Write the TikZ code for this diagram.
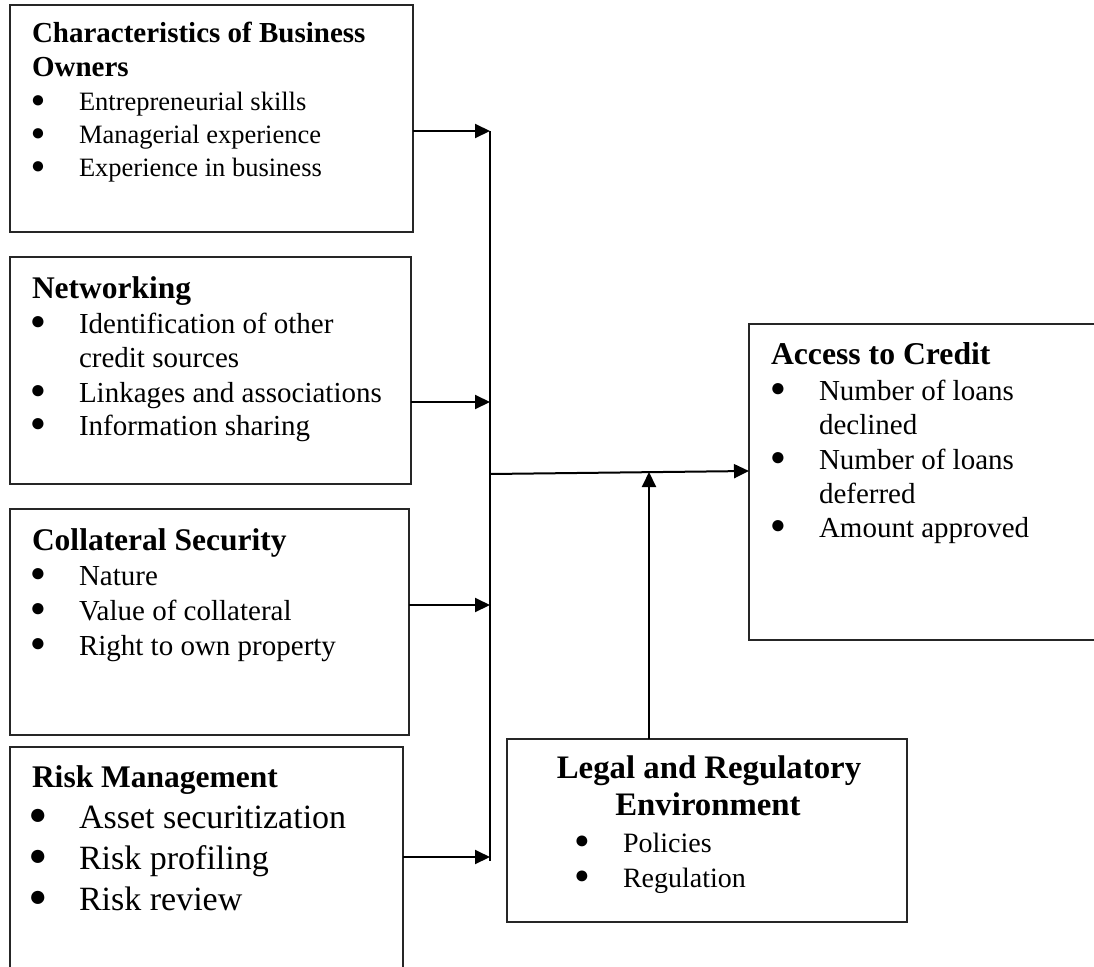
\documentclass[tikz,border=0pt]{standalone}
\usepackage{fontspec}
\setmainfont{Liberation Serif}
\usetikzlibrary{arrows.meta}
\tikzset{
  box/.style={draw=black!85, line width=1.1pt, anchor=north west, inner sep=0pt, outer sep=0pt},
  ln/.style={anchor=base west, inner sep=0pt, outer sep=0pt},
  cln/.style={anchor=base, inner sep=0pt, outer sep=0pt},
  arr/.style={line width=2pt, -{Triangle[length=15pt,width=14pt]}},
  bus/.style={line width=2pt},
}
\makeatletter
\newcommand\bul{\llap{\raisebox{0.11em}{\fontsize{\fpeval{0.9*\f@size}}{0}\selectfont ●}\hspace{\dimexpr41pt-0.27em\relax}}}
\makeatother
\newcommand\fs[1]{\fontsize{#1}{#1}\selectfont}
\begin{document}
\begin{tikzpicture}[x=1pt,y=-1pt]
\useasboundingbox (0,0) rectangle (1094,966);
\clip (0,0) rectangle (1094,966);
\fill[white] (0,0) rectangle (1094,966);

% boxes
\node[box, minimum width=403pt, minimum height=227pt] (b1) at (10,5) {};
\node[box, minimum width=401pt, minimum height=227pt] (b2) at (10,257) {};
\node[box, minimum width=399pt, minimum height=226pt] (b3) at (10,509) {};
\node[box, minimum width=393pt, minimum height=240pt] (b4) at (10,747) {};
\node[box, minimum width=361pt, minimum height=316pt] (acc) at (749,324) {};
\node[box, minimum width=400pt, minimum height=183pt] (leg) at (507,739) {};

% box 1
\node[ln, font=\bfseries\fs{29}] (b1t1) at (32,43) {Characteristics of Business};
\node[ln, font=\bfseries\fs{29}] (b1t2) at (32,76) {Owners};
\node[ln, font=\fs{26.5}] (b1i1) at (79,110) {\bul Entrepreneurial skills};
\node[ln, font=\fs{26.5}] (b1i2) at (79,143) {\bul Managerial experience};
\node[ln, font=\fs{26.5}] (b1i3) at (79,176) {\bul Experience in business};

% box 2
\node[ln, font=\bfseries\fs{31.5}] (b2t) at (32,298) {Networking};
\node[ln, font=\fs{29}] (b2i1) at (79,333) {\bul Identification of other};
\node[ln, font=\fs{29}] (b2i1b) at (79,367) {credit sources};
\node[ln, font=\fs{29}] (b2i2) at (79,402) {\bul Linkages and associations};
\node[ln, font=\fs{29}] (b2i3) at (79,435) {\bul Information sharing};

% box 3
\node[ln, font=\bfseries\fs{31.5}] (b3t) at (32,550) {Collateral Security};
\node[ln, font=\fs{29}] (b3i1) at (79,585) {\bul Nature};
\node[ln, font=\fs{29}] (b3i2) at (79,620) {\bul Value of collateral};
\node[ln, font=\fs{29}] (b3i3) at (79,655) {\bul Right to own property};

% box 4
\node[ln, font=\bfseries\fs{31.5}] (b4t) at (32,787) {Risk Management};
\node[ln, font=\fs{34}] (b4i1) at (79,828) {\bul Asset securitization};
\node[ln, font=\fs{34}] (b4i2) at (79,869) {\bul Risk profiling};
\node[ln, font=\fs{34}] (b4i3) at (79,910) {\bul Risk review};

% access to credit
\node[ln, font=\bfseries\fs{31.7}] (acct) at (771,364) {Access to Credit};
\node[ln, font=\fs{29}] (acci1) at (819,400) {\bul Number of loans};
\node[ln, font=\fs{29}] (acci1b) at (819,434) {declined};
\node[ln, font=\fs{29}] (acci2) at (819,469) {\bul Number of loans};
\node[ln, font=\fs{29}] (acci2b) at (819,503) {deferred};
\node[ln, font=\fs{29}] (acci3) at (819,537) {\bul Amount approved};

% legal
\node[cln, font=\bfseries\fs{32.8}] (legt1) at (709,778) {Legal and Regulatory};
\node[cln, font=\bfseries\fs{32.8}] (legt2) at (708,815) {Environment};
\node[ln, font=\fs{28}] (legi1) at (623,852) {\bul Policies};
\node[ln, font=\fs{28}] (legi2) at (623,887) {\bul Regulation};

% connectors
\coordinate (j1) at (490,131);
\coordinate (j2) at (490,402);
\coordinate (j3) at (490,605);
\coordinate (j4) at (490,857);
\coordinate (jb) at (490,861);
\coordinate (m) at (490,474);
\coordinate (ai) at (749,471);
\coordinate (up) at (649,472);

\draw[bus] (j1) -- (jb);
\draw[arr] (b1.east |- j1) -- (j1);
\draw[arr] (b2.east |- j2) -- (j2);
\draw[arr] (b3.east |- j3) -- (j3);
\draw[arr] (b4.east |- j4) -- (j4);
\draw[arr] (m) -- (ai);
\draw[arr] (leg.north -| up) -- (up);
\end{tikzpicture}
\end{document}
